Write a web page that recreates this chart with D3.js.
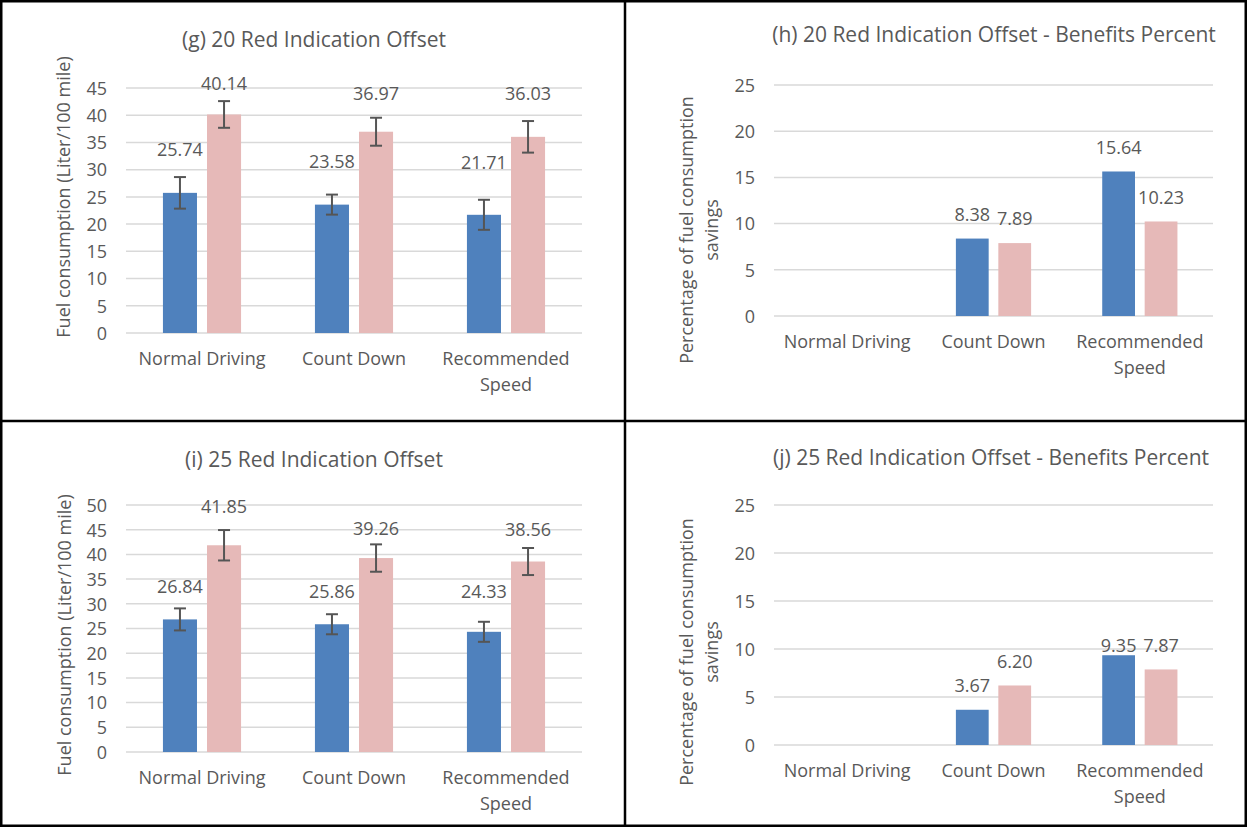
<!DOCTYPE html>
<html><head><meta charset="utf-8">
<script src="https://cdn.jsdelivr.net/npm/d3@7/dist/d3.min.js"></script>
<style>
html,body{margin:0;padding:0;background:#fff;}
svg text{font-family:"Open Sans","Noto Sans",sans-serif;fill:#595959;}
</style></head>
<body>
<svg id="c" width="1247" height="827"></svg>
<script>
// ---------- DATA ----------
const categories = ["Normal Driving", "Count Down", "Recommended Speed"];
const series = ["A", "B"];

const titleG = "(g) 20 Red Indication Offset";
const blueG = [25.74, 23.58, 21.71];
const pinkG = [40.14, 36.97, 36.03];
const blueErrG = [2.9, 1.84, 2.76];
const pinkErrG = [2.45, 2.57, 2.9];
const ticksG = [0, 5, 10, 15, 20, 25, 30, 35, 40, 45];

const titleH = "(h) 20 Red Indication Offset - Benefits Percent";
const blueH = [null, 8.38, 15.64];
const pinkH = [null, 7.89, 10.23];
const ticksH = [0, 5, 10, 15, 20, 25];

const titleI = "(i) 25 Red Indication Offset";
const blueI = [26.84, 25.86, 24.33];
const pinkI = [41.85, 39.26, 38.56];
const blueErrI = [2.23, 2.03, 2.03];
const pinkErrI = [3.08, 2.77, 2.74];
const ticksI = [0, 5, 10, 15, 20, 25, 30, 35, 40, 45, 50];

const titleJ = "(j) 25 Red Indication Offset - Benefits Percent";
const blueJ = [null, 3.67, 9.35];
const pinkJ = [null, 6.20, 7.87];
const ticksJ = [0, 5, 10, 15, 20, 25];

const yTitleFuel = ["Fuel consumption (Liter/100 mile)"];
const yTitlePct = ["Percentage of fuel consumption", "savings"];

// ---------- LAYOUT (positions / styles) ----------
const COLORS = {A: "#4f81bd", B: "#e6b9b8"};
// label lift above the bar top in px (hand-placed labels in original)
const liftG = {A: [43, 43, 52], B: [31, 38, 43]};
const liftI = {A: [33, 33, 40], B: [39, 29, 32]};
const liftDefault = {A: [24, 24, 24], B: [24, 24, 24]};
const liftJ = {A: [24, 24, 10], B: [24, 24, 24]};

const panels = [
  {title: titleG, blue: blueG, pink: pinkG, errA: blueErrG, errB: pinkErrG, ticks: ticksG,
   x0: 126, x1: 582, yTop: 88, yBot: 333, tx: 314, ty: 40, yt: yTitleFuel, ytx: 64, yty: 197, lift: liftG},
  {title: titleH, blue: blueH, pink: pinkH, ticks: ticksH,
   x0: 774, x1: 1213, yTop: 85, yBot: 316, tx: 994, ty: 35, yt: yTitlePct, ytx: 699, yty: 230, lift: liftDefault},
  {title: titleI, blue: blueI, pink: pinkI, errA: blueErrI, errB: pinkErrI, ticks: ticksI,
   x0: 126, x1: 582, yTop: 505, yBot: 752, tx: 314, ty: 460, yt: yTitleFuel, ytx: 65, yty: 635, lift: liftI},
  {title: titleJ, blue: blueJ, pink: pinkJ, ticks: ticksJ,
   x0: 774, x1: 1213, yTop: 505, yBot: 745, tx: 991, ty: 458, yt: yTitlePct, ytx: 699, yty: 652, lift: liftJ}
];

const svg = d3.select("#c");
const FS = 18;

panels.forEach(p => {
  const g = svg.append("g");
  const y = d3.scaleLinear().domain([0, d3.max(p.ticks)]).range([p.yBot, p.yTop]);
  const x0 = d3.scaleBand().domain(categories).range([p.x0, p.x1]).paddingInner(0.486).paddingOuter(0.243);
  const x1 = d3.scaleBand().domain(series).range([0, x0.bandwidth()]).paddingInner(0.2276);

  // gridlines
  g.append("g").selectAll("line").data(p.ticks).join("line")
    .attr("x1", p.x0).attr("x2", p.x1)
    .attr("y1", d => y(d)).attr("y2", d => y(d))
    .attr("stroke", "#d9d9d9").attr("stroke-width", 1.5);

  // y tick labels
  const yAxis = d3.axisLeft(y).tickValues(p.ticks).tickSize(0).tickPadding(0);
  const ya = g.append("g").attr("transform", `translate(${p.x0 - 19},0)`).call(yAxis);
  ya.select(".domain").remove();
  ya.selectAll("text").attr("font-size", FS).attr("fill", "#595959")
    .style("font-family", '"Open Sans","Noto Sans",sans-serif').attr("dy", "0.35em");

  // x category labels (wrapped)
  const xAxis = d3.axisBottom(x0).tickSize(0).tickPadding(0);
  const xa = g.append("g").attr("transform", `translate(0,${p.yBot})`).call(xAxis);
  xa.select(".domain").remove();
  xa.selectAll("text").each(function(d) {
    const t = d3.select(this);
    t.text(null).attr("font-size", FS).attr("fill", "#595959").attr("y", 0).attr("dy", null)
      .style("font-family", '"Open Sans","Noto Sans",sans-serif');
    const lines = d === "Recommended Speed" ? ["Recommended", "Speed"] : [d];
    lines.forEach((ln, k) => t.append("tspan").attr("x", 0).attr("y", 32 + k * 26).text(ln));
  });

  // bars
  const rows = categories.map((c, i) => ({c, i, vals: [
    {s: "A", v: p.blue[i], e: p.errA ? p.errA[i] : null},
    {s: "B", v: p.pink[i], e: p.errB ? p.errB[i] : null}]}));
  const grp = g.append("g").selectAll("g").data(rows).join("g")
    .attr("transform", d => `translate(${x0(d.c)},0)`);
  const items = grp.selectAll("g").data(d => d.vals.map(v => ({...v, i: d.i})).filter(v => v.v != null)).join("g");
  items.append("rect")
    .attr("x", d => x1(d.s)).attr("width", x1.bandwidth())
    .attr("y", d => y(d.v)).attr("height", d => y(0) - y(d.v))
    .attr("fill", d => COLORS[d.s]);

  // error bars
  const eb = items.filter(d => d.e != null);
  const cx = d => x1(d.s) + x1.bandwidth() / 2;
  eb.append("line").attr("x1", cx).attr("x2", cx)
    .attr("y1", d => y(d.v + d.e)).attr("y2", d => y(d.v - d.e))
    .attr("stroke", "#555").attr("stroke-width", 2);
  [1, -1].forEach(sg => {
    eb.append("line").attr("x1", d => cx(d) - 6).attr("x2", d => cx(d) + 6)
      .attr("y1", d => y(d.v + sg * d.e)).attr("y2", d => y(d.v + sg * d.e))
      .attr("stroke", "#555").attr("stroke-width", 2);
  });

  // data labels
  items.append("text")
    .attr("x", cx).attr("y", d => y(d.v) - p.lift[d.s][d.i])
    .attr("dy", "0.35em").attr("text-anchor", "middle").attr("font-size", FS)
    .text(d => d.v.toFixed(2));

  // title
  g.append("text").attr("x", p.tx).attr("y", p.ty).attr("dy", "0.35em")
    .attr("text-anchor", "middle").attr("font-size", 21).text(p.title);

  // y axis title
  const yt = g.append("text").attr("transform", `translate(${p.ytx},${p.yty}) rotate(-90)`)
    .attr("text-anchor", "middle").attr("font-size", FS);
  const n = p.yt.length;
  p.yt.forEach((ln, k) => yt.append("tspan").attr("x", 0)
    .attr("y", (k - (n - 1) / 2) * 25).attr("dy", "0.35em").text(ln));
});

// panel borders
const B = svg.append("g").attr("fill", "none").attr("stroke", "#000").attr("stroke-width", 2.5);
B.append("rect").attr("x", 1.25).attr("y", 1.25).attr("width", 1244.5).attr("height", 824.5);
B.append("line").attr("x1", 625).attr("x2", 625).attr("y1", 0).attr("y2", 827);
B.append("line").attr("x1", 0).attr("x2", 1247).attr("y1", 421).attr("y2", 421);
</script>
</body></html>
